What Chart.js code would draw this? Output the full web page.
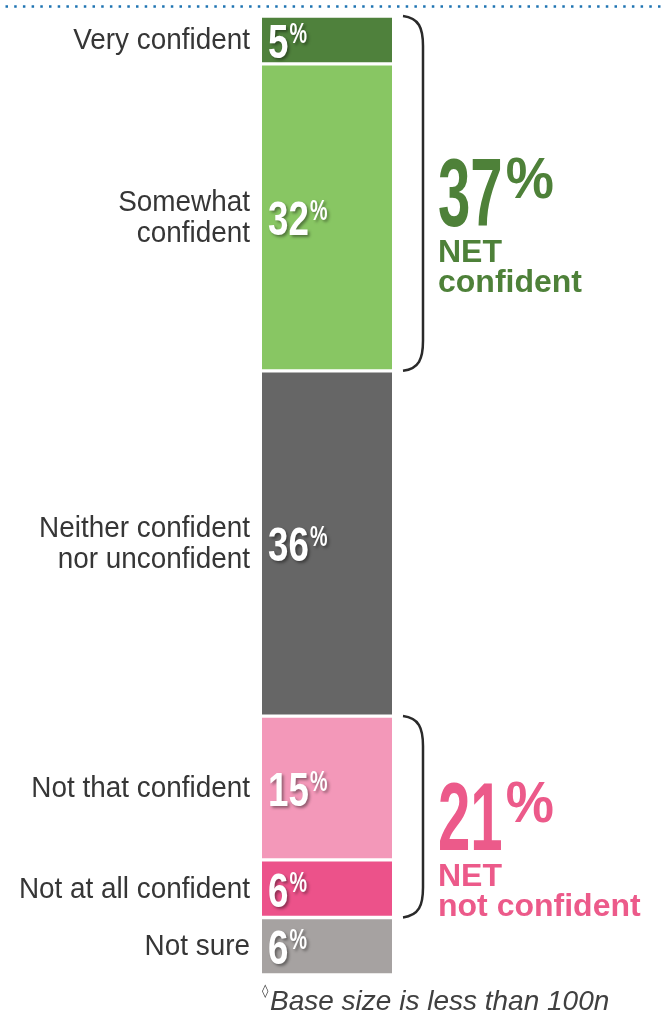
<!DOCTYPE html>
<html>
<head>
<meta charset="utf-8">
<script src="https://cdn.jsdelivr.net/npm/chart.js@4.4.0/dist/chart.umd.min.js"></script>
<style>
  html, body { margin: 0; padding: 0; background: #fff; }
  #wrap { width: 662px; height: 1025px; }
</style>
</head>
<body>
<div id="wrap"><canvas id="chart" width="662" height="1025"></canvas></div>
<script>
// Response categories, top to bottom of the bar
const categories = ['Very confident', 'Somewhat\nconfident', 'Neither confident\nnor unconfident', 'Not that confident', 'Not at all confident', 'Not sure'];
const shares     = [5, 32, 36, 15, 6, 6];
const colors     = ['#4f813c', '#88c663', '#666666', '#f398b9', '#ec528a', '#a6a2a1'];

// NET groups: first/last category index under each bracket
const netValues = [37, 21];
const netLabels = [['NET', 'confident'], ['NET', 'not confident']];
const netSpans  = [[0, 1], [3, 4]];
const netColors = ['#4e8139', '#ec5a8a'];

const footnote = 'Base size is less than 100n';

const LABEL_FONT = '"Liberation Sans", Arial, sans-serif';

// draws text squeezed horizontally, returns the drawn width
function drawSquashed(ctx, text, x, y, font, sx) {
  ctx.save();
  ctx.font = font;
  ctx.translate(x, y);
  ctx.scale(sx, 1);
  ctx.fillText(text, 0, 0);
  const w = ctx.measureText(text).width * sx;
  ctx.restore();
  return w;
}

function segBounds(chart, i) {
  const bar = chart.getDatasetMeta(i).data[0];
  return { top: Math.min(bar.y, bar.base), bottom: Math.max(bar.y, bar.base) };
}

const surveyLabels = {
  id: 'surveyLabels',
  beforeDraw(chart) {
    // dotted rule across the top
    const ctx = chart.ctx;
    ctx.save();
    ctx.strokeStyle = '#1f74b2';
    ctx.lineWidth = 2.6;
    ctx.lineCap = 'butt';
    ctx.setLineDash([2.5, 6.2]);
    ctx.beginPath();
    ctx.moveTo(5.5, 6.5);
    ctx.lineTo(chart.width, 6.5);
    ctx.stroke();
    ctx.restore();
  },
  afterDatasetsDraw(chart) {
    const ctx = chart.ctx;
    const area = chart.chartArea;

    chart.data.datasets.forEach((ds, i) => {
      const b = segBounds(chart, i);
      const mid = (b.top + b.bottom) / 2;

      // category label on the left, right-aligned against the bar
      ctx.save();
      ctx.fillStyle = '#363636';
      ctx.font = '30px ' + LABEL_FONT;
      ctx.textAlign = 'right';
      ctx.textBaseline = 'middle';
      const lines = categories[i].split('\n');
      lines.forEach((ln, k) => {
        ctx.save();
        ctx.translate(area.left - 12, mid + (k - (lines.length - 1) / 2) * 31 + 1);
        ctx.scale(0.93, 1);
        ctx.fillText(ln, 0, 0);
        ctx.restore();
      });
      ctx.restore();

      // value inside the bar
      ctx.save();
      ctx.fillStyle = '#ffffff';
      ctx.textAlign = 'left';
      ctx.textBaseline = 'alphabetic';
      ctx.shadowColor = 'rgba(0,0,0,0.4)';
      ctx.shadowOffsetX = 2;
      ctx.shadowOffsetY = 2;
      ctx.shadowBlur = 3;
      const base = mid + 18;
      const w = drawSquashed(ctx, String(shares[i]), area.left + 6, base, 'bold 49px ' + LABEL_FONT, 0.75);
      drawSquashed(ctx, '%', area.left + 6 + w + 1, base - 36 + 21, 'bold 29px ' + LABEL_FONT, 0.68);
      ctx.restore();
    });

    // brackets and NET totals
    netSpans.forEach((span, n) => {
      const yTop = segBounds(chart, span[0]).top;
      const yBot = segBounds(chart, span[1]).bottom;
      const x0 = area.right + 11;
      const dx = 20;
      ctx.save();
      ctx.strokeStyle = '#2a2a2a';
      ctx.lineWidth = 2.5;
      ctx.beginPath();
      ctx.moveTo(x0, yTop);
      ctx.bezierCurveTo(x0 + dx * 0.8, yTop + 2, x0 + dx, yTop + 12, x0 + dx, yTop + 30);
      ctx.lineTo(x0 + dx, yBot - 30);
      ctx.bezierCurveTo(x0 + dx, yBot - 12, x0 + dx * 0.8, yBot - 2, x0, yBot);
      ctx.stroke();
      ctx.restore();

      const center = (yTop + yBot) / 2;
      const digitsBase = center + 33;
      const tx = area.right + 46;
      ctx.save();
      ctx.fillStyle = netColors[n];
      ctx.textAlign = 'left';
      ctx.textBaseline = 'alphabetic';
      const w = drawSquashed(ctx, String(netValues[n]), tx, digitsBase, 'bold 97px ' + LABEL_FONT, 0.6);
      drawSquashed(ctx, '%', tx + w + 3, digitsBase - 70 + 42, 'bold 57px ' + LABEL_FONT, 0.95);
      ctx.font = 'bold 32px ' + LABEL_FONT;
      ctx.fillText(netLabels[n][0], tx, digitsBase + 36);
      ctx.fillText(netLabels[n][1], tx, digitsBase + 66);
      ctx.restore();
    });

    // footnote
    ctx.save();
    ctx.fillStyle = '#404040';
    ctx.textAlign = 'left';
    ctx.textBaseline = 'alphabetic';
    ctx.font = '13px "DejaVu Sans", sans-serif';
    ctx.fillText('\u25CA', area.left, 995);
    ctx.font = 'italic 28px ' + LABEL_FONT;
    ctx.fillText(footnote, area.left + 8, 1010);
    ctx.restore();
  }
};

new Chart(document.getElementById('chart'), {
  type: 'bar',
  data: {
    labels: [''],
    datasets: categories.map((c, i) => ({
      label: c.replace('\n', ' '),
      data: [shares[i]],
      backgroundColor: colors[i],
      borderColor: '#ffffff',
      borderWidth: { top: 2, bottom: 2, left: 0, right: 0 },
      borderSkipped: false,
      barPercentage: 1,
      categoryPercentage: 1
    }))
  },
  options: {
    responsive: false,
    animation: false,
    layout: { padding: { left: 262, right: 270, top: 16, bottom: 50 } },
    plugins: { legend: { display: false }, tooltip: { enabled: false } },
    scales: {
      x: { stacked: true, display: false },
      y: { stacked: true, display: false, reverse: true, min: 0, max: 100 }
    }
  },
  plugins: [surveyLabels]
});
</script>
</body>
</html>
